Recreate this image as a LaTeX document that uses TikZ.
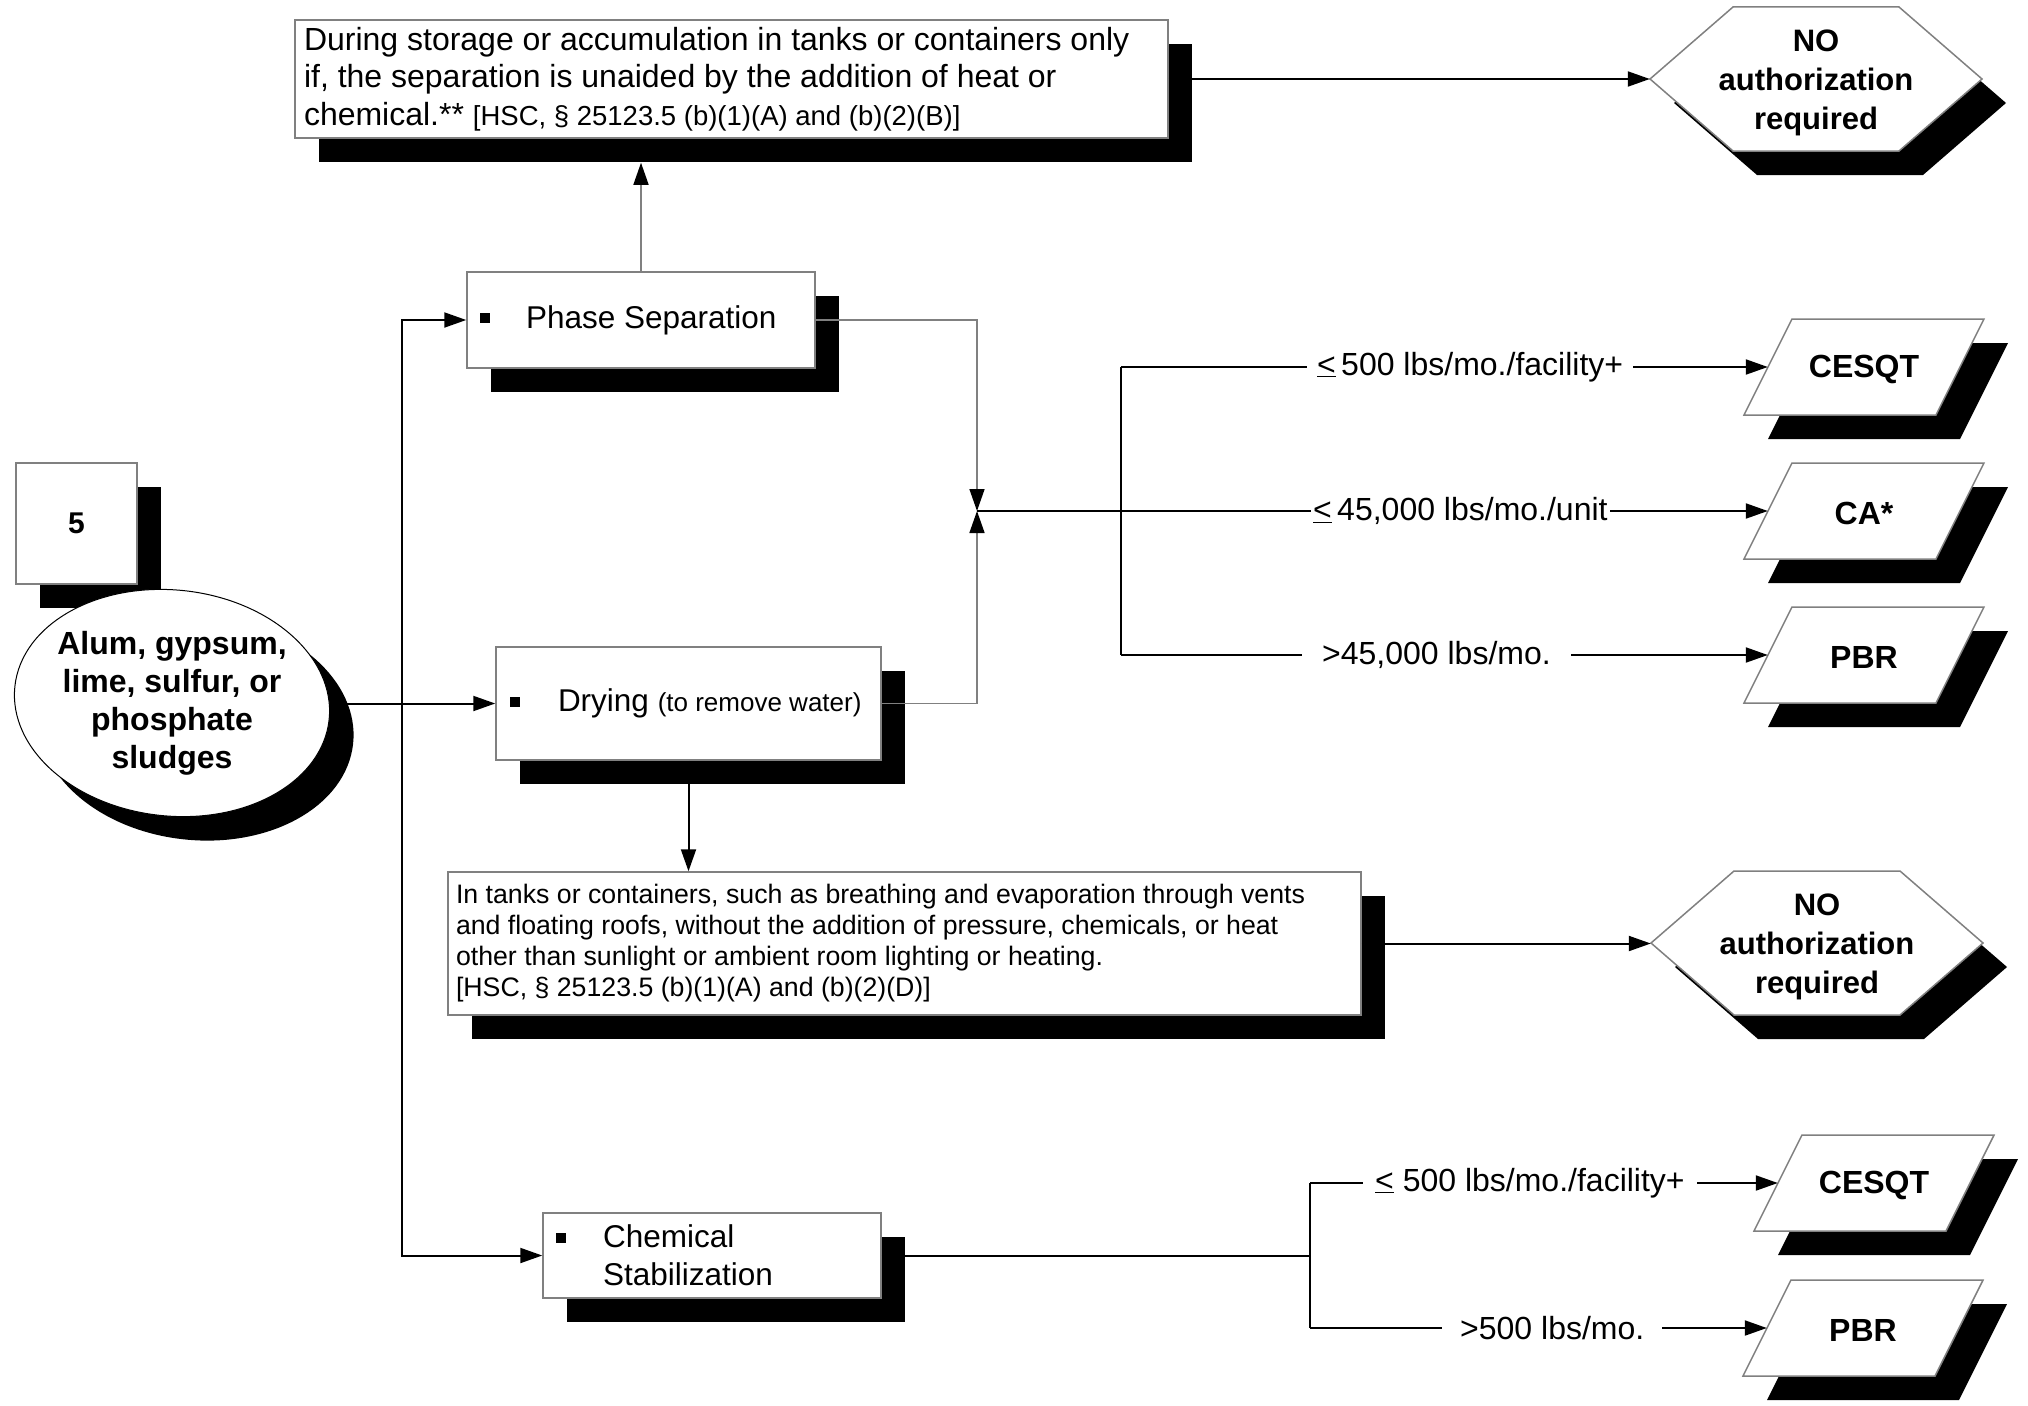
\documentclass[tikz,border=0pt]{standalone}
\usepackage{fontspec}
\setmainfont{Liberation Sans}
\usetikzlibrary{shapes.geometric,shadows,arrows.meta,calc}
\definecolor{boxgray}{gray}{0.5}
\newcommand\nsp{\spaceskip=0pt\xspaceskip=0pt\relax}
\newcommand\leqs{\underline{<}}
\newcommand\bsq[1]{\leavevmode\rlap{\hspace*{#1}\rule[5pt]{10pt}{10pt}}}
\newcommand\pgramat[4]{%
  \fill[black] (#2+24-72,#3+24-48) -- ++(192,0) -- ++(-48,96) -- ++(-192,0) -- cycle;
  \path[shapeline] (#2-72,#3-48) -- ++(192,0) -- ++(-48,96) -- ++(-192,0) -- cycle;
  \node[pgtext] (#1) at (#2,#3) {\raisebox{0pt}[\dimexpr\height+5pt\relax][\depth]{#4}};
}
\newcommand\hexat[4]{%
  \fill[black] (#2+24-166,#3+24) -- ++(83,-72) -- ++(166,0) -- ++(83,72) -- ++(-83,72) -- ++(-166,0) -- cycle;
  \path[shapeline] (#2-166,#3) -- ++(83,-72) -- ++(166,0) -- ++(83,72) -- ++(-83,72) -- ++(-166,0) -- cycle;
  \node[hextext] (#1) at (#2,#3) {\raisebox{0pt}[\dimexpr\height+7pt\relax][\depth]{\begin{tabular}{@{}c@{}}#4\end{tabular}}};
}
\begin{document}
\begin{tikzpicture}[x=1pt,y=-1pt,
  shapeline/.style={draw=boxgray,line width=1.5pt,fill=white},
  box/.style={rectangle,draw=boxgray,line width=1.5pt,fill=white,inner sep=0pt,align=left,
    general shadow={fill=black,shadow xshift=24pt,shadow yshift=-24pt}},
  mainfont/.style={font=\fontsize{32}{37.5}\selectfont},
  pgtext/.style={inner sep=0pt,minimum width=192pt,minimum height=96pt,font=\bfseries\fontsize{32}{36}\selectfont},
  hextext/.style={inner sep=0pt,minimum width=332pt,minimum height=144pt,font=\bfseries\fontsize{31}{39}\selectfont},
  conn/.style={draw=black,line width=2pt},
  gconn/.style={draw=boxgray,line width=1.5pt},
  arr/.style={-{Triangle[length=22pt,width=15pt,color=black,fill=black]}},
  lab/.style={fill=white,inner ysep=3pt,anchor=west,font=\fontsize{32}{36}\selectfont}
]
\useasboundingbox (0,0) rectangle (2028,1405);

% boxes
\node[box,mainfont,minimum width=873pt,minimum height=118pt,text width=855pt,inner xsep=9pt] (topbox) at (731.5,79)
 {\nsp During storage or accumulation in tanks or containers only\\
  if, the separation is unaided by the addition of heat or\\
  chemical.** {\fontsize{27.5}{37.5}\selectfont\nsp {[}HSC, § 25123.5 (b)(1)(A) and (b)(2)(B)]}};

\node[box,font=\fontsize{31.5}{37.5}\selectfont,minimum width=348pt,minimum height=96pt,text width=348pt] (phase) at (641,320)
 {\nsp\bsq{13pt}\hspace*{59pt}Phase Separation};

\node[box,font=\fontsize{31.5}{37.5}\selectfont,minimum width=385pt,minimum height=113pt,text width=385pt] (drying) at (688.5,703.5)
 {\nsp\bsq{14pt}\hspace*{62pt}Drying {\fontsize{26}{30}\selectfont\nsp (to remove water)}};

\node[box,font=\fontsize{31.5}{38}\selectfont,minimum width=338pt,minimum height=85pt,text width=338pt] (chem) at (712,1255.5)
 {\nsp\bsq{13pt}\hspace*{60pt}Chemical\\\hspace*{60pt}Stabilization};

\node[box,font=\fontsize{26.7}{31}\selectfont,minimum width=913pt,minimum height=143pt,text width=897pt,inner xsep=8pt] (tanks) at (904.5,943.5)
 {\nsp In tanks or containers, such as breathing and evaporation through vents\\
  and floating roofs, without the addition of pressure, chemicals, or heat\\
  other than sunlight or ambient room lighting or heating.\\
  {[}HSC, § 25123.5 (b)(1)(A) and (b)(2)(D)]};

\node[box,font=\bfseries\fontsize{30}{34}\selectfont,minimum width=121pt,minimum height=121pt,align=center] (five) at (76.5,523.5) {5};

\node[ellipse,rotate=-6,draw=black,line width=1pt,fill=white,inner sep=0pt,minimum width=316pt,minimum height=226pt,
  general shadow={fill=black,shadow xshift=24pt,shadow yshift=-24pt}] (sludge) at (172,703) {};
\node[align=center,inner sep=0pt,font=\bfseries\fontsize{32}{38}\selectfont] (sludgetext) at (172,703)
 {Alum, gypsum,\\lime, sulfur, or\\phosphate\\sludges};

% end shapes
\hexat{hexa}{1816}{79}{NO\\authorization\\required}
\hexat{hexb}{1817}{943}{NO\\authorization\\required}
\pgramat{cesqta}{1864}{367}{CESQT}
\pgramat{caa}{1864}{511}{CA*}
\pgramat{pbra}{1864}{655}{PBR}
\pgramat{cesqtb}{1874}{1183}{CESQT}
\pgramat{pbrb}{1863}{1328}{PBR}

% coordinates
\coordinate (fork) at (402,703.5);
\coordinate (merge) at (977,511);
\coordinate (bratop) at (1121,367);
\coordinate (brabot) at (1121,655);
\coordinate (brbtop) at (1310,1183);
\coordinate (brbbot) at (1310,1328);

% connectors
\draw[conn,arr] (topbox.east) -- (topbox.east -| hexa.west);
\draw[gconn,arr,shorten >=24pt] (phase.north) -- (phase.north |- topbox.south);
\draw[conn,arr] (sludge.east |- drying.west) -- (drying.west);
\draw[conn,arr] (fork) |- (phase.west);
\draw[conn,arr] (fork) |- (chem.west);
\draw[gconn,arr] (phase.east) -| (merge);
\draw[gconn,arr] (drying.east) -| (merge);
\draw[conn,arr] (merge) -- (caa.west);
\draw[conn] (bratop) -- (brabot);
\draw[conn,arr] (bratop) -- (cesqta.west);
\draw[conn,arr] (brabot) -- (pbra.west);
\draw[conn,arr] (drying.south) -- (drying.south |- tanks.north);
\draw[conn,arr] (tanks.east) -- (tanks.east -| hexb.west);
\draw[conn] (chem.east) -- (chem.east -| brbtop);
\draw[conn] (brbtop) -- (brbbot);
\draw[conn,arr] (brbtop) -- (cesqtb.west);
\draw[conn,arr] (brbbot) -- (pbrb.west);

% labels
\node[lab,inner xsep=10pt] (la1) at (1307,367) {\leqs\,500 lbs/mo./facility+\hspace{20pt}};
\node[lab,inner xsep=2pt] (la2) at (1311,511) {\leqs\,45,000 lbs/mo./unit};
\node[lab,inner xsep=20pt] (la3) at (1302,655) {>45,000 lbs/mo.};
\node[lab,inner xsep=12pt] (lb1) at (1363,1183) {\leqs\ 500 lbs/mo./facility+};
\node[lab,inner xsep=18pt] (lb2) at (1442,1328) {>500 lbs/mo.};
\end{tikzpicture}
\end{document}
